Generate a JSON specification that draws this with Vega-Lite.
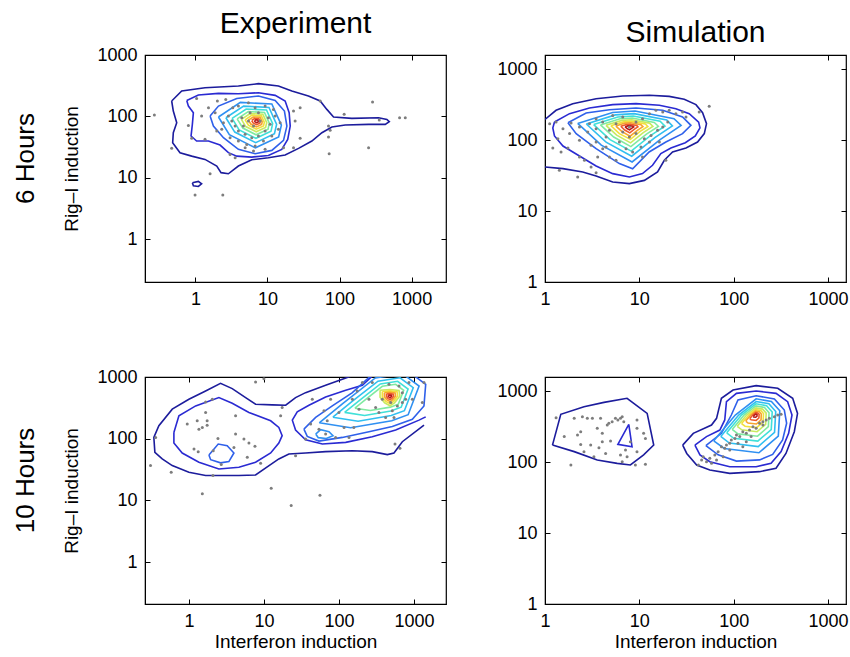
{
"$schema":"https://vega.github.io/schema/vega-lite/v6.json",
"background":"white",
"padding":{"left":13,"top":8,"right":0,"bottom":0},
"config":{
 "font":"Liberation Sans",
 "view":{"stroke":"black","strokeWidth":1.2},
 "axis":{"grid":false,"domainColor":"black","tickColor":"black","labelColor":"black","titleColor":"black","labelFont":"Liberation Sans","titleFont":"Liberation Sans","labelFontSize":18,"titleFontSize":19,"titleFontWeight":"normal","tickSize":-5,"labelPadding":13,"labelFlush":false,"labelOverlap":false},
 "axisX":{"titlePadding":2},
 "axisY":{"titlePadding":15},
 "title":{"font":"Liberation Sans","fontWeight":"normal","color":"black"}
},
"datasets":{
"tlc":[
{"c":1,"l":1,"x":0.469,"y":178},{"c":1,"l":1,"x":0.646,"y":259},{"c":1,"l":1,"x":1.36,"y":293},{"c":1,"l":1,"x":3.95,"y":313},{"c":1,"l":1,"x":7.5,"y":341},{"c":1,"l":1,"x":14.2,"y":313},{"c":1,"l":1,"x":21.8,"y":259},{"c":1,"l":1,"x":37,"y":215},{"c":1,"l":1,"x":53.9,"y":178},{"c":1,"l":1,"x":66.7,"y":130},{"c":1,"l":1,"x":82.6,"y":97.5},{"c":1,"l":1,"x":148,"y":92.8},{"c":1,"l":1,"x":348,"y":95.1},{"c":1,"l":1,"x":454,"y":89.3},{"c":1,"l":1,"x":490,"y":81.8},{"c":1,"l":1,"x":431,"y":74.1},{"c":1,"l":1,"x":253,"y":74.1},{"c":1,"l":1,"x":120,"y":72.3},{"c":1,"l":1,"x":78.3,"y":67},{"c":1,"l":1,"x":56.9,"y":54.2},{"c":1,"l":1,"x":41.3,"y":39.6},{"c":1,"l":1,"x":27,"y":30.1},{"c":1,"l":1,"x":17.6,"y":23.4},{"c":1,"l":1,"x":10.3,"y":21.2},{"c":1,"l":1,"x":6.06,"y":19.6},{"c":1,"l":1,"x":3.95,"y":15.5},{"c":1,"l":1,"x":2.87,"y":11.6},{"c":1,"l":1,"x":2.27,"y":12.1},{"c":1,"l":1,"x":1.98,"y":15.5},{"c":1,"l":1,"x":1.36,"y":19.9},{"c":1,"l":1,"x":0.889,"y":22.5},{"c":1,"l":1,"x":0.612,"y":25.6},{"c":1,"l":1,"x":0.484,"y":37.2},{"c":1,"l":1,"x":0.494,"y":54.2},{"c":1,"l":1,"x":0.551,"y":78.9},{"c":1,"l":1,"x":0.494,"y":122},{"c":1,"l":1,"x":0.469,"y":178},
{"c":2,"l":2,"x":0.759,"y":182},{"c":2,"l":2,"x":1.1,"y":223},{"c":2,"l":2,"x":2.09,"y":237},{"c":2,"l":2,"x":3.95,"y":234},{"c":2,"l":2,"x":7.5,"y":243},{"c":2,"l":2,"x":12.8,"y":220},{"c":2,"l":2,"x":17.6,"y":178},{"c":2,"l":2,"x":20,"y":115},{"c":2,"l":2,"x":20.7,"y":69.5},{"c":2,"l":2,"x":19.1,"y":42.2},{"c":2,"l":2,"x":15.8,"y":29},{"c":2,"l":2,"x":10.3,"y":23.1},{"c":2,"l":2,"x":6.06,"y":21.7},{"c":2,"l":2,"x":3.75,"y":22.5},{"c":2,"l":2,"x":2.87,"y":25.6},{"c":2,"l":2,"x":2.2,"y":34.1},{"c":2,"l":2,"x":1.52,"y":39.6},{"c":2,"l":2,"x":1.04,"y":39.6},{"c":2,"l":2,"x":0.871,"y":47.8},{"c":2,"l":2,"x":0.908,"y":74.1},{"c":2,"l":2,"x":0.938,"y":115},{"c":2,"l":2,"x":0.8,"y":147},{"c":2,"l":2,"x":0.759,"y":182},
{"c":3,"l":3,"x":1.6,"y":101},{"c":3,"l":3,"x":2.09,"y":147},{"c":3,"l":3,"x":3.75,"y":196},{"c":3,"l":3,"x":7.5,"y":215},{"c":3,"l":3,"x":12.8,"y":182},{"c":3,"l":3,"x":17.2,"y":122},{"c":3,"l":3,"x":18.6,"y":69.5},{"c":3,"l":3,"x":16.7,"y":40.6},{"c":3,"l":3,"x":11.5,"y":27.9},{"c":3,"l":3,"x":6.75,"y":24.6},{"c":3,"l":3,"x":3.95,"y":29},{"c":3,"l":3,"x":2.45,"y":44.9},{"c":3,"l":3,"x":1.78,"y":69.5},{"c":3,"l":3,"x":1.6,"y":101},
{"c":4,"l":4,"x":2.09,"y":97.7},{"c":4,"l":4,"x":4.21,"y":169},{"c":4,"l":4,"x":11.5,"y":159},{"c":4,"l":4,"x":15.6,"y":71.9},{"c":4,"l":4,"x":14.3,"y":46.3},{"c":4,"l":4,"x":6.81,"y":30.7},{"c":4,"l":4,"x":2.96,"y":50.2},{"c":4,"l":4,"x":2.09,"y":97.7},
{"c":5,"l":5,"x":2.65,"y":94.8},{"c":5,"l":5,"x":4.67,"y":147},{"c":5,"l":5,"x":10.5,"y":140},{"c":5,"l":5,"x":13.4,"y":74.1},{"c":5,"l":5,"x":12.5,"y":52},{"c":5,"l":5,"x":6.87,"y":37.3},{"c":5,"l":5,"x":3.52,"y":55.5},{"c":5,"l":5,"x":2.65,"y":94.8},
{"c":6,"l":6,"x":3.23,"y":92.7},{"c":6,"l":6,"x":5.07,"y":132},{"c":6,"l":6,"x":9.7,"y":127},{"c":6,"l":6,"x":11.8,"y":76},{"c":6,"l":6,"x":11.2,"y":57.1},{"c":6,"l":6,"x":6.92,"y":43.9},{"c":6,"l":6,"x":4.05,"y":60.3},{"c":6,"l":6,"x":3.23,"y":92.7},
{"c":7,"l":7,"x":3.8,"y":90.8},{"c":7,"l":7,"x":5.43,"y":120},{"c":7,"l":7,"x":9.1,"y":116},{"c":7,"l":7,"x":10.6,"y":77.6},{"c":7,"l":7,"x":10.2,"y":61.9},{"c":7,"l":7,"x":6.95,"y":50.1},{"c":7,"l":7,"x":4.55,"y":64.6},{"c":7,"l":7,"x":3.8,"y":90.8},
{"c":8,"l":8,"x":4.35,"y":89.3},{"c":8,"l":8,"x":5.75,"y":111},{"c":8,"l":8,"x":8.63,"y":108},{"c":8,"l":8,"x":9.77,"y":78.9},{"c":8,"l":8,"x":9.42,"y":66.1},{"c":8,"l":8,"x":6.98,"y":56},{"c":8,"l":8,"x":5,"y":68.2},{"c":8,"l":8,"x":4.35,"y":89.3},
{"c":9,"l":9,"x":4.9,"y":87.9},{"c":9,"l":9,"x":6.05,"y":104},{"c":9,"l":9,"x":8.24,"y":102},{"c":9,"l":9,"x":9.04,"y":80},{"c":9,"l":9,"x":8.81,"y":70},{"c":9,"l":9,"x":7.01,"y":61.8},{"c":9,"l":9,"x":5.45,"y":71.8},{"c":9,"l":9,"x":4.9,"y":87.9},
{"c":10,"l":10,"x":5.43,"y":86.9},{"c":10,"l":10,"x":6.34,"y":97.7},{"c":10,"l":10,"x":7.91,"y":96.6},{"c":10,"l":10,"x":8.45,"y":81.1},{"c":10,"l":10,"x":8.3,"y":73.6},{"c":10,"l":10,"x":7.05,"y":67.3},{"c":10,"l":10,"x":5.87,"y":75},{"c":10,"l":10,"x":5.43,"y":86.9},
{"c":11,"l":11,"x":6.04,"y":85.7},{"c":11,"l":11,"x":6.62,"y":92.3},{"c":11,"l":11,"x":7.59,"y":91.4},{"c":11,"l":11,"x":7.91,"y":82.2},{"c":11,"l":11,"x":7.82,"y":77.4},{"c":11,"l":11,"x":7.06,"y":73.3},{"c":11,"l":11,"x":6.32,"y":78.3},{"c":11,"l":11,"x":6.04,"y":85.7},
{"c":12,"l":12,"x":6.61,"y":84.7},{"c":12,"l":12,"x":6.89,"y":87.5},{"c":12,"l":12,"x":7.33,"y":87.3},{"c":12,"l":12,"x":7.46,"y":83.2},{"c":12,"l":12,"x":7.43,"y":80.9},{"c":12,"l":12,"x":7.1,"y":78.9},{"c":12,"l":12,"x":6.75,"y":81.3},{"c":12,"l":12,"x":6.61,"y":84.7},
{"c":13,"l":1,"x":0.908,"y":8.28},{"c":13,"l":1,"x":1.1,"y":8.71},{"c":13,"l":1,"x":1.22,"y":7.98},{"c":13,"l":1,"x":1.1,"y":7.22},{"c":13,"l":1,"x":0.938,"y":7.41},{"c":13,"l":1,"x":0.908,"y":8.28}
],
"tlp":[
{"x":0.27,"y":105},{"x":0.469,"y":30.1},{"x":0.8,"y":71.3},{"x":0.889,"y":43.8},{"x":1.04,"y":196},{"x":1.22,"y":101},{"x":1.36,"y":42.2},{"x":1.52,"y":138},{"x":1.6,"y":11.6},{"x":0.99,"y":5.21},{"x":2.4,"y":5.21},{"x":2.02,"y":178},{"x":2.64,"y":189},{"x":3.56,"y":21.2},{"x":3.03,"y":24},{"x":23,"y":122},{"x":28.4,"y":138},{"x":24.2,"y":83.9},{"x":28.4,"y":43.8},{"x":23,"y":30.8},{"x":16.7,"y":30.8},{"x":53.9,"y":178},{"x":70.3,"y":69.5},{"x":74.1,"y":59.2},{"x":70.3,"y":46},{"x":71.8,"y":24.6},{"x":116,"y":108},{"x":253,"y":30.8},{"x":287,"y":171},{"x":356,"y":87.1},{"x":681,"y":95.1},{"x":817,"y":95.1},{"x":3.3,"y":138},{"x":3.95,"y":147},{"x":5.45,"y":167},{"x":6.74,"y":138},{"x":9.28,"y":147},{"x":12.1,"y":130},{"x":12.8,"y":101},{"x":10.9,"y":74.1},{"x":9.28,"y":57.7},{"x":7.5,"y":47.8},{"x":6.06,"y":44.9},{"x":4.9,"y":50.9},{"x":3.95,"y":57.7},{"x":3.56,"y":69.5},{"x":3.2,"y":83.9},{"x":2.87,"y":101},{"x":2.45,"y":78.9},{"x":2.32,"y":61.4},{"x":3.03,"y":44.9},{"x":3.95,"y":39.6},{"x":5.16,"y":34.9},{"x":6.74,"y":32.8},{"x":8.8,"y":39.6},{"x":11.5,"y":47.8},{"x":14.2,"y":61.4},{"x":15,"y":78.9},{"x":4.4,"y":95.1},{"x":5.45,"y":83.9},{"x":6.4,"y":69.5},{"x":7.91,"y":83.9},{"x":10.3,"y":95.1},{"x":5.74,"y":115},{"x":7.5,"y":115},{"x":4.64,"y":69.5},{"x":1.98,"y":57.7},{"x":1.88,"y":115},{"x":4.9,"y":30.8},{"x":6.4,"y":27.2},{"x":9.28,"y":29}
],
"trc":[
{"c":1,"l":1,"x":1,"y":195},{"c":1,"l":1,"x":1.31,"y":262},{"c":1,"l":1,"x":1.97,"y":325},{"c":1,"l":1,"x":3.48,"y":382},{"c":1,"l":1,"x":6.67,"y":417},{"c":1,"l":1,"x":12.8,"y":426},{"c":1,"l":1,"x":20.7,"y":412},{"c":1,"l":1,"x":29.9,"y":374},{"c":1,"l":1,"x":39.8,"y":315},{"c":1,"l":1,"x":46.8,"y":243},{"c":1,"l":1,"x":51.5,"y":170},{"c":1,"l":1,"x":48.8,"y":123},{"c":1,"l":1,"x":41.4,"y":93.7},{"c":1,"l":1,"x":31.2,"y":77.1},{"c":1,"l":1,"x":22.5,"y":67.8},{"c":1,"l":1,"x":18.4,"y":51.8},{"c":1,"l":1,"x":15.6,"y":35.4},{"c":1,"l":1,"x":11.3,"y":27},{"c":1,"l":1,"x":7.84,"y":24.3},{"c":1,"l":1,"x":5.22,"y":25.6},{"c":1,"l":1,"x":3.48,"y":31.1},{"c":1,"l":1,"x":2.51,"y":35.4},{"c":1,"l":1,"x":1.55,"y":39.5},{"c":1,"l":1,"x":1,"y":41.7},
{"c":2,"l":2,"x":1.26,"y":179},{"c":2,"l":2,"x":1.82,"y":235},{"c":2,"l":2,"x":2.96,"y":282},{"c":2,"l":2,"x":5.22,"y":315},{"c":2,"l":2,"x":9.22,"y":325},{"c":2,"l":2,"x":16.3,"y":308},{"c":2,"l":2,"x":24.4,"y":276},{"c":2,"l":2,"x":33.8,"y":235},{"c":2,"l":2,"x":42.5,"y":179},{"c":2,"l":2,"x":43.9,"y":148},{"c":2,"l":2,"x":39.2,"y":114},{"c":2,"l":2,"x":30.7,"y":91.6},{"c":2,"l":2,"x":21.6,"y":77.1},{"c":2,"l":2,"x":16.9,"y":64.3},{"c":2,"l":2,"x":13.8,"y":44},{"c":2,"l":2,"x":10.8,"y":33.6},{"c":2,"l":2,"x":7.84,"y":30.1},{"c":2,"l":2,"x":5.22,"y":33.6},{"c":2,"l":2,"x":3.48,"y":43.1},{"c":2,"l":2,"x":2.32,"y":59.6},{"c":2,"l":2,"x":1.55,"y":82.2},{"c":2,"l":2,"x":1.26,"y":114},{"c":2,"l":2,"x":1.21,"y":148},{"c":2,"l":2,"x":1.26,"y":179},
{"c":3,"l":3,"x":1.75,"y":175},{"c":3,"l":3,"x":2.73,"y":240},{"c":3,"l":3,"x":4.82,"y":267},{"c":3,"l":3,"x":9.22,"y":282},{"c":3,"l":3,"x":17.7,"y":262},{"c":3,"l":3,"x":28.7,"y":211},{"c":3,"l":3,"x":35.2,"y":161},{"c":3,"l":3,"x":28.7,"y":123},{"c":3,"l":3,"x":19.1,"y":93.8},{"c":3,"l":3,"x":12.7,"y":67.8},{"c":3,"l":3,"x":8.49,"y":39.4},{"c":3,"l":3,"x":6.14,"y":46.5},{"c":3,"l":3,"x":3.48,"y":75.5},{"c":3,"l":3,"x":2.14,"y":123},{"c":3,"l":3,"x":1.75,"y":175},
{"c":4,"l":4,"x":2.22,"y":171},{"c":4,"l":4,"x":5.21,"y":244},{"c":4,"l":4,"x":9,"y":256},{"c":4,"l":4,"x":23.3,"y":200},{"c":4,"l":4,"x":27.7,"y":160},{"c":4,"l":4,"x":16.6,"y":101},{"c":4,"l":4,"x":8.38,"y":49},{"c":4,"l":4,"x":3.95,"y":84.5},{"c":4,"l":4,"x":2.22,"y":171},
{"c":5,"l":5,"x":2.74,"y":168},{"c":5,"l":5,"x":5.57,"y":226},{"c":5,"l":5,"x":8.79,"y":235},{"c":5,"l":5,"x":19.5,"y":191},{"c":5,"l":5,"x":22.4,"y":158},{"c":5,"l":5,"x":14.6,"y":108},{"c":5,"l":5,"x":8.3,"y":59.2},{"c":5,"l":5,"x":4.44,"y":93.1},{"c":5,"l":5,"x":2.74,"y":168},
{"c":6,"l":6,"x":3.28,"y":165},{"c":6,"l":6,"x":5.92,"y":211},{"c":6,"l":6,"x":8.61,"y":218},{"c":6,"l":6,"x":16.6,"y":184},{"c":6,"l":6,"x":18.7,"y":157},{"c":6,"l":6,"x":13.1,"y":115},{"c":6,"l":6,"x":8.2,"y":69.7},{"c":6,"l":6,"x":4.89,"y":101},{"c":6,"l":6,"x":3.28,"y":165},
{"c":7,"l":7,"x":3.87,"y":163},{"c":7,"l":7,"x":6.24,"y":199},{"c":7,"l":7,"x":8.45,"y":204},{"c":7,"l":7,"x":14.4,"y":177},{"c":7,"l":7,"x":15.9,"y":156},{"c":7,"l":7,"x":11.9,"y":121},{"c":7,"l":7,"x":8.13,"y":80.7},{"c":7,"l":7,"x":5.35,"y":110},{"c":7,"l":7,"x":3.87,"y":163},
{"c":8,"l":8,"x":4.43,"y":161},{"c":8,"l":8,"x":6.52,"y":189},{"c":8,"l":8,"x":8.34,"y":193},{"c":8,"l":8,"x":12.8,"y":173},{"c":8,"l":8,"x":13.9,"y":156},{"c":8,"l":8,"x":11,"y":127},{"c":8,"l":8,"x":8.07,"y":91.2},{"c":8,"l":8,"x":5.75,"y":117},{"c":8,"l":8,"x":4.43,"y":161},
{"c":9,"l":9,"x":4.99,"y":159},{"c":9,"l":9,"x":6.78,"y":180},{"c":9,"l":9,"x":8.22,"y":183},{"c":9,"l":9,"x":11.6,"y":168},{"c":9,"l":9,"x":12.3,"y":155},{"c":9,"l":9,"x":10.2,"y":132},{"c":9,"l":9,"x":8.04,"y":102},{"c":9,"l":9,"x":6.14,"y":123},{"c":9,"l":9,"x":4.99,"y":159},
{"c":10,"l":10,"x":5.64,"y":157},{"c":10,"l":10,"x":7.05,"y":173},{"c":10,"l":10,"x":8.13,"y":175},{"c":10,"l":10,"x":10.4,"y":164},{"c":10,"l":10,"x":10.9,"y":154},{"c":10,"l":10,"x":9.53,"y":137},{"c":10,"l":10,"x":7.98,"y":113},{"c":10,"l":10,"x":6.55,"y":131},{"c":10,"l":10,"x":5.64,"y":157},
{"c":11,"l":11,"x":6.35,"y":156},{"c":11,"l":11,"x":7.31,"y":165},{"c":11,"l":11,"x":8.02,"y":166},{"c":11,"l":11,"x":9.4,"y":160},{"c":11,"l":11,"x":9.66,"y":153},{"c":11,"l":11,"x":8.87,"y":142},{"c":11,"l":11,"x":7.93,"y":126},{"c":11,"l":11,"x":7,"y":138},{"c":11,"l":11,"x":6.35,"y":156},
{"c":12,"l":12,"x":7.05,"y":154},{"c":12,"l":12,"x":7.57,"y":158},{"c":12,"l":12,"x":7.93,"y":159},{"c":12,"l":12,"x":8.57,"y":156},{"c":12,"l":12,"x":8.71,"y":153},{"c":12,"l":12,"x":8.34,"y":147},{"c":12,"l":12,"x":7.87,"y":139},{"c":12,"l":12,"x":7.4,"y":145},{"c":12,"l":12,"x":7.05,"y":154}
],
"trp":[
{"x":1.12,"y":170},{"x":1.21,"y":77.1},{"x":1.37,"y":104},{"x":1.48,"y":67.8},{"x":1.75,"y":77.1},{"x":1.42,"y":37.4},{"x":2.22,"y":30.1},{"x":2.62,"y":51.8},{"x":3.48,"y":34.7},{"x":3.08,"y":84.1},{"x":1.82,"y":123},{"x":2.32,"y":98.9},{"x":1.55,"y":144},{"x":1.31,"y":179},{"x":1.89,"y":173},{"x":2.96,"y":170},{"x":3.48,"y":144},{"x":4.09,"y":179},{"x":4.82,"y":137},{"x":5.66,"y":170},{"x":6.67,"y":130},{"x":7.84,"y":152},{"x":9.22,"y":179},{"x":10.8,"y":200},{"x":12.8,"y":235},{"x":15,"y":262},{"x":17.7,"y":248},{"x":20.7,"y":262},{"x":24.4,"y":235},{"x":28.7,"y":248},{"x":31.2,"y":211},{"x":43.1,"y":248},{"x":55,"y":298},{"x":6.14,"y":93.7},{"x":7.23,"y":75.5},{"x":8.49,"y":67.8},{"x":10.8,"y":57.7},{"x":11.3,"y":104},{"x":13.3,"y":116},{"x":15.6,"y":137},{"x":17.7,"y":152},{"x":20,"y":179},{"x":5.66,"y":51.8},{"x":4.82,"y":57.7},{"x":4.09,"y":75.5},{"x":3.48,"y":93.7},{"x":4.44,"y":110},{"x":5.22,"y":222},{"x":6.67,"y":211},{"x":9.22,"y":123},{"x":10.4,"y":79.6},{"x":12.8,"y":93.7},{"x":16.3,"y":93.7},{"x":19.1,"y":51.8},{"x":7.84,"y":110},{"x":3.48,"y":200},{"x":2.84,"y":130},{"x":2.32,"y":152},{"x":4.44,"y":79.6},{"x":3.62,"y":57.7},{"x":2.32,"y":57.7},{"x":3.08,"y":41.7}
],
"blc":[
{"c":1,"l":1,"x":194,"y":1175},{"c":1,"l":1,"x":66.4,"y":734},{"c":1,"l":1,"x":35.9,"y":558},{"c":1,"l":1,"x":26.4,"y":464},{"c":1,"l":1,"x":19.5,"y":349},{"c":1,"l":1,"x":12.9,"y":353},{"c":1,"l":1,"x":7.74,"y":362},{"c":1,"l":1,"x":5.7,"y":464},{"c":1,"l":1,"x":3.78,"y":649},{"c":1,"l":1,"x":2.64,"y":791},{"c":1,"l":1,"x":1.67,"y":594},{"c":1,"l":1,"x":1,"y":437},{"c":1,"l":1,"x":0.6,"y":301},{"c":1,"l":1,"x":0.398,"y":162},{"c":1,"l":1,"x":0.341,"y":105},{"c":1,"l":1,"x":0.352,"y":60.3},{"c":1,"l":1,"x":0.441,"y":47},{"c":1,"l":1,"x":0.6,"y":36.7},{"c":1,"l":1,"x":1,"y":28.6},{"c":1,"l":1,"x":1.67,"y":25.3},{"c":1,"l":1,"x":4.64,"y":25.3},{"c":1,"l":1,"x":7.74,"y":25.9},{"c":1,"l":1,"x":11.7,"y":36.7},{"c":1,"l":1,"x":15.8,"y":47},{"c":1,"l":1,"x":21.5,"y":56.6},{"c":1,"l":1,"x":35.9,"y":58.7},{"c":1,"l":1,"x":66.4,"y":61.7},{"c":1,"l":1,"x":151,"y":64},{"c":1,"l":1,"x":278,"y":61.7},{"c":1,"l":1,"x":441,"y":55.2},{"c":1,"l":1,"x":541,"y":58.7},{"c":1,"l":1,"x":699,"y":89.5},{"c":1,"l":1,"x":1360,"y":166},
{"c":2,"l":2,"x":0.631,"y":126},{"c":2,"l":2,"x":0.736,"y":235},{"c":2,"l":2,"x":1.23,"y":340},{"c":2,"l":2,"x":2.51,"y":464},{"c":2,"l":2,"x":3.78,"y":376},{"c":2,"l":2,"x":6.31,"y":266},{"c":2,"l":2,"x":12.3,"y":195},{"c":2,"l":2,"x":15.8,"y":152},{"c":2,"l":2,"x":17.5,"y":112},{"c":2,"l":2,"x":15.8,"y":85.1},{"c":2,"l":2,"x":12.3,"y":58.7},{"c":2,"l":2,"x":7.74,"y":41.5},{"c":2,"l":2,"x":4.64,"y":34.5},{"c":2,"l":2,"x":2.51,"y":32.4},{"c":2,"l":2,"x":1.36,"y":41.5},{"c":2,"l":2,"x":0.815,"y":58.7},{"c":2,"l":2,"x":0.631,"y":85.1},{"c":2,"l":2,"x":0.631,"y":126},
{"c":3,"l":3,"x":1.85,"y":54.6},{"c":3,"l":3,"x":2.46,"y":82},{"c":3,"l":3,"x":3.24,"y":77.1},{"c":3,"l":3,"x":3.98,"y":58.7},{"c":3,"l":3,"x":3.41,"y":42.6},{"c":3,"l":3,"x":2.64,"y":40.6},{"c":3,"l":3,"x":1.95,"y":45.8},{"c":3,"l":3,"x":1.85,"y":54.6},
{"c":4,"l":2,"x":278,"y":1038},{"c":4,"l":2,"x":205,"y":734},{"c":4,"l":2,"x":123,"y":610},{"c":4,"l":2,"x":66.4,"y":475},{"c":4,"l":2,"x":39.8,"y":349},{"c":4,"l":2,"x":27.8,"y":272},{"c":4,"l":2,"x":23.9,"y":200},{"c":4,"l":2,"x":26.4,"y":138},{"c":4,"l":2,"x":35.9,"y":96.4},{"c":4,"l":2,"x":60,"y":82},{"c":4,"l":2,"x":123,"y":87.3},{"c":4,"l":2,"x":278,"y":108},{"c":4,"l":2,"x":570,"y":138},{"c":4,"l":2,"x":1167,"y":200},{"c":4,"l":2,"x":1432,"y":226},
{"c":5,"l":4,"x":48.9,"y":119},{"c":5,"l":4,"x":57,"y":140},{"c":5,"l":4,"x":73.6,"y":130},{"c":5,"l":4,"x":83.2,"y":112},{"c":5,"l":4,"x":67.8,"y":101},{"c":5,"l":4,"x":53,"y":104},{"c":5,"l":4,"x":48.9,"y":119},
{"c":6,"l":3,"x":34.1,"y":143},{"c":6,"l":3,"x":48.9,"y":221},{"c":6,"l":3,"x":81.5,"y":340},{"c":6,"l":3,"x":151,"y":558},{"c":6,"l":3,"x":278,"y":1104},{"c":6,"l":3,"x":774,"y":1330},{"c":6,"l":3,"x":1432,"y":762},{"c":6,"l":3,"x":1358,"y":340},{"c":6,"l":3,"x":951,"y":207},{"c":6,"l":3,"x":514,"y":158},{"c":6,"l":3,"x":251,"y":130},{"c":6,"l":3,"x":111,"y":105},{"c":6,"l":3,"x":54.1,"y":91.6},{"c":6,"l":3,"x":37.8,"y":109},{"c":6,"l":3,"x":34.1,"y":143},
{"c":7,"l":4,"x":54.6,"y":181},{"c":7,"l":4,"x":111,"y":368},{"c":7,"l":4,"x":305,"y":966},{"c":7,"l":4,"x":706,"y":1125},{"c":7,"l":4,"x":1169,"y":713},{"c":7,"l":4,"x":836,"y":245},{"c":7,"l":4,"x":505,"y":196},{"c":7,"l":4,"x":143,"y":151},{"c":7,"l":4,"x":54.6,"y":181},
{"c":8,"l":5,"x":83,"y":223},{"c":8,"l":5,"x":147,"y":394},{"c":8,"l":5,"x":331,"y":857},{"c":8,"l":5,"x":652,"y":971},{"c":8,"l":5,"x":977,"y":671},{"c":8,"l":5,"x":745,"y":284},{"c":8,"l":5,"x":497,"y":238},{"c":8,"l":5,"x":180,"y":192},{"c":8,"l":5,"x":83,"y":223},
{"c":9,"l":6,"x":119,"y":267},{"c":9,"l":6,"x":188,"y":419},{"c":9,"l":6,"x":356,"y":773},{"c":9,"l":6,"x":605,"y":851},{"c":9,"l":6,"x":834,"y":637},{"c":9,"l":6,"x":675,"y":324},{"c":9,"l":6,"x":490,"y":281},{"c":9,"l":6,"x":220,"y":238},{"c":9,"l":6,"x":119,"y":267},
{"c":10,"l":7,"x":163,"y":312},{"c":10,"l":7,"x":232,"y":442},{"c":10,"l":7,"x":378,"y":706},{"c":10,"l":7,"x":570,"y":762},{"c":10,"l":7,"x":729,"y":610},{"c":10,"l":7,"x":618,"y":362},{"c":10,"l":7,"x":484,"y":325},{"c":10,"l":7,"x":262,"y":286},{"c":10,"l":7,"x":163,"y":312},
{"c":11,"l":8,"x":353,"y":611},{"c":11,"l":8,"x":479,"y":628},{"c":11,"l":8,"x":631,"y":603},{"c":11,"l":8,"x":649,"y":490},{"c":11,"l":8,"x":550,"y":382},{"c":11,"l":8,"x":479,"y":342},{"c":11,"l":8,"x":406,"y":382},{"c":11,"l":8,"x":353,"y":470},{"c":11,"l":8,"x":353,"y":611},
{"c":12,"l":9,"x":378,"y":582},{"c":12,"l":9,"x":479,"y":596},{"c":12,"l":9,"x":594,"y":577},{"c":12,"l":9,"x":607,"y":490},{"c":12,"l":9,"x":533,"y":403},{"c":12,"l":9,"x":479,"y":370},{"c":12,"l":9,"x":421,"y":403},{"c":12,"l":9,"x":378,"y":474},{"c":12,"l":9,"x":378,"y":582},
{"c":13,"l":10,"x":403,"y":555},{"c":13,"l":10,"x":479,"y":564},{"c":13,"l":10,"x":560,"y":551},{"c":13,"l":10,"x":569,"y":490},{"c":13,"l":10,"x":518,"y":426},{"c":13,"l":10,"x":479,"y":400},{"c":13,"l":10,"x":436,"y":426},{"c":13,"l":10,"x":403,"y":479},{"c":13,"l":10,"x":403,"y":555},
{"c":14,"l":11,"x":429,"y":531},{"c":14,"l":11,"x":479,"y":537},{"c":14,"l":11,"x":530,"y":528},{"c":14,"l":11,"x":535,"y":490},{"c":14,"l":11,"x":504,"y":447},{"c":14,"l":11,"x":479,"y":430},{"c":14,"l":11,"x":451,"y":447},{"c":14,"l":11,"x":429,"y":482},{"c":14,"l":11,"x":429,"y":531},
{"c":15,"l":12,"x":455,"y":508},{"c":15,"l":12,"x":479,"y":511},{"c":15,"l":12,"x":501,"y":507},{"c":15,"l":12,"x":504,"y":490},{"c":15,"l":12,"x":490,"y":470},{"c":15,"l":12,"x":479,"y":461},{"c":15,"l":12,"x":466,"y":470},{"c":15,"l":12,"x":455,"y":486},{"c":15,"l":12,"x":455,"y":508}
],
"blp":[
{"x":0.308,"y":36.7},{"x":0.36,"y":105},{"x":0.581,"y":28.6},{"x":0.95,"y":173},{"x":1.29,"y":195},{"x":1.36,"y":143},{"x":1.51,"y":152},{"x":1.75,"y":195},{"x":1.75,"y":166},{"x":1.67,"y":266},{"x":2.05,"y":437},{"x":1.67,"y":395},{"x":1.17,"y":68.1},{"x":1.33,"y":61.7},{"x":2.44,"y":101},{"x":2.11,"y":64},{"x":2.7,"y":38.1},{"x":2.09,"y":25.3},{"x":1.51,"y":12.8},{"x":4.19,"y":235},{"x":4.19,"y":119},{"x":3.98,"y":72.4},{"x":5.41,"y":98.9},{"x":6.31,"y":85.1},{"x":6,"y":50},{"x":7.59,"y":75.2},{"x":7.74,"y":830},{"x":10,"y":940},{"x":9.03,"y":40},{"x":12.5,"y":15.8},{"x":23.1,"y":8.3},{"x":17.5,"y":320},{"x":16.7,"y":235},{"x":44.1,"y":437},{"x":26.4,"y":53.2},{"x":41.9,"y":173},{"x":54.1,"y":143},{"x":63.1,"y":283},{"x":69.8,"y":195},{"x":77.4,"y":437},{"x":90.3,"y":105},{"x":117,"y":152},{"x":136,"y":105},{"x":158,"y":152},{"x":175,"y":594},{"x":185,"y":301},{"x":205,"y":811},{"x":278,"y":811},{"x":308,"y":320},{"x":341,"y":266},{"x":378,"y":437},{"x":419,"y":221},{"x":489,"y":385},{"x":514,"y":283},{"x":541,"y":221},{"x":600,"y":340},{"x":699,"y":385},{"x":699,"y":558},{"x":774,"y":437},{"x":857,"y":811},{"x":951,"y":437},{"x":1291,"y":385},{"x":1358,"y":811},{"x":558,"y":82},{"x":650,"y":69.8},{"x":55.8,"y":12.1},{"x":100,"y":266},{"x":251,"y":437},{"x":464,"y":762},{"x":631,"y":716},{"x":151,"y":437},{"x":35.9,"y":98.9},{"x":66.4,"y":119}
],
"brc":[
{"c":1,"l":1,"x":1.2,"y":173},{"c":1,"l":1,"x":1.47,"y":469},{"c":1,"l":1,"x":2.59,"y":601},{"c":1,"l":1,"x":4.22,"y":692},{"c":1,"l":1,"x":7.41,"y":789},{"c":1,"l":1,"x":12.1,"y":484},{"c":1,"l":1,"x":14.2,"y":173},{"c":1,"l":1,"x":11.1,"y":126},{"c":1,"l":1,"x":8.04,"y":90.8},{"c":1,"l":1,"x":5.82,"y":95.7},{"c":1,"l":1,"x":3.58,"y":107},{"c":1,"l":1,"x":2.04,"y":140},{"c":1,"l":1,"x":1.2,"y":173},
{"c":2,"l":2,"x":7.73,"y":340},{"c":2,"l":2,"x":8.37,"y":164},{"c":2,"l":2,"x":5.92,"y":177},{"c":2,"l":2,"x":7.73,"y":340},
{"c":3,"l":1,"x":28.8,"y":173},{"c":3,"l":1,"x":37.3,"y":253},{"c":3,"l":1,"x":58.2,"y":332},{"c":3,"l":1,"x":65.8,"y":412},{"c":3,"l":1,"x":74.1,"y":789},{"c":3,"l":1,"x":98.4,"y":1033},{"c":3,"l":1,"x":173,"y":1189},{"c":3,"l":1,"x":293,"y":1091},{"c":3,"l":1,"x":422,"y":789},{"c":3,"l":1,"x":475,"y":484},{"c":3,"l":1,"x":439,"y":267},{"c":3,"l":1,"x":358,"y":132},{"c":3,"l":1,"x":281,"y":81.5},{"c":3,"l":1,"x":188,"y":73.1},{"c":3,"l":1,"x":90.8,"y":69.2},{"c":3,"l":1,"x":55.8,"y":77.1},{"c":3,"l":1,"x":40.5,"y":90.8},{"c":3,"l":1,"x":31.8,"y":132},{"c":3,"l":1,"x":28.8,"y":173},
{"c":4,"l":2,"x":38.8,"y":173},{"c":4,"l":2,"x":51.5,"y":228},{"c":4,"l":2,"x":71.3,"y":282},{"c":4,"l":2,"x":80.4,"y":391},{"c":4,"l":2,"x":83.8,"y":708},{"c":4,"l":2,"x":107,"y":927},{"c":4,"l":2,"x":173,"y":1000},{"c":4,"l":2,"x":281,"y":927},{"c":4,"l":2,"x":373,"y":708},{"c":4,"l":2,"x":415,"y":459},{"c":4,"l":2,"x":382,"y":253},{"c":4,"l":2,"x":318,"y":140},{"c":4,"l":2,"x":249,"y":95.7},{"c":4,"l":2,"x":173,"y":85.9},{"c":4,"l":2,"x":90.8,"y":85.9},{"c":4,"l":2,"x":55.8,"y":101},{"c":4,"l":2,"x":43.9,"y":126},{"c":4,"l":2,"x":38.8,"y":173},
{"c":5,"l":3,"x":50.7,"y":170},{"c":5,"l":3,"x":74.1,"y":254},{"c":5,"l":3,"x":94.4,"y":459},{"c":5,"l":3,"x":111,"y":746},{"c":5,"l":3,"x":173,"y":859},{"c":5,"l":3,"x":270,"y":771},{"c":5,"l":3,"x":344,"y":540},{"c":5,"l":3,"x":364,"y":351},{"c":5,"l":3,"x":330,"y":204},{"c":5,"l":3,"x":259,"y":128},{"c":5,"l":3,"x":188,"y":107},{"c":5,"l":3,"x":107,"y":103},{"c":5,"l":3,"x":68.4,"y":126},{"c":5,"l":3,"x":50.7,"y":170},
{"c":6,"l":4,"x":61.5,"y":199},{"c":6,"l":4,"x":104,"y":459},{"c":6,"l":4,"x":173,"y":776},{"c":6,"l":4,"x":251,"y":710},{"c":6,"l":4,"x":308,"y":526},{"c":6,"l":4,"x":297,"y":232},{"c":6,"l":4,"x":185,"y":135},{"c":6,"l":4,"x":79.3,"y":155},{"c":6,"l":4,"x":61.5,"y":199},
{"c":7,"l":5,"x":72.9,"y":229},{"c":7,"l":5,"x":113,"y":459},{"c":7,"l":5,"x":173,"y":711},{"c":7,"l":5,"x":236,"y":661},{"c":7,"l":5,"x":279,"y":514},{"c":7,"l":5,"x":271,"y":261},{"c":7,"l":5,"x":182,"y":165},{"c":7,"l":5,"x":89.9,"y":185},{"c":7,"l":5,"x":72.9,"y":229},
{"c":8,"l":6,"x":84.3,"y":258},{"c":8,"l":6,"x":121,"y":459},{"c":8,"l":6,"x":172,"y":661},{"c":8,"l":6,"x":223,"y":621},{"c":8,"l":6,"x":256,"y":505},{"c":8,"l":6,"x":250,"y":287},{"c":8,"l":6,"x":180,"y":197},{"c":8,"l":6,"x":100,"y":216},{"c":8,"l":6,"x":84.3,"y":258},
{"c":9,"l":7,"x":96.4,"y":288},{"c":9,"l":7,"x":129,"y":459},{"c":9,"l":7,"x":172,"y":617},{"c":9,"l":7,"x":212,"y":586},{"c":9,"l":7,"x":237,"y":495},{"c":9,"l":7,"x":233,"y":314},{"c":9,"l":7,"x":179,"y":231},{"c":9,"l":7,"x":111,"y":249},{"c":9,"l":7,"x":96.4,"y":288},
{"c":10,"l":8,"x":109,"y":318},{"c":10,"l":8,"x":137,"y":459},{"c":10,"l":8,"x":172,"y":579},{"c":10,"l":8,"x":202,"y":556},{"c":10,"l":8,"x":221,"y":488},{"c":10,"l":8,"x":218,"y":340},{"c":10,"l":8,"x":177,"y":267},{"c":10,"l":8,"x":122,"y":284},{"c":10,"l":8,"x":109,"y":318},
{"c":11,"l":9,"x":121,"y":348},{"c":11,"l":9,"x":145,"y":459},{"c":11,"l":9,"x":171,"y":547},{"c":11,"l":9,"x":194,"y":531},{"c":11,"l":9,"x":207,"y":481},{"c":11,"l":9,"x":205,"y":366},{"c":11,"l":9,"x":175,"y":305},{"c":11,"l":9,"x":132,"y":319},{"c":11,"l":9,"x":121,"y":348},
{"c":12,"l":10,"x":134,"y":377},{"c":12,"l":10,"x":152,"y":459},{"c":12,"l":10,"x":171,"y":520},{"c":12,"l":10,"x":187,"y":509},{"c":12,"l":10,"x":196,"y":474},{"c":12,"l":10,"x":195,"y":391},{"c":12,"l":10,"x":174,"y":343},{"c":12,"l":10,"x":142,"y":354},{"c":12,"l":10,"x":134,"y":377},
{"c":13,"l":11,"x":148,"y":407},{"c":13,"l":11,"x":159,"y":459},{"c":13,"l":11,"x":171,"y":495},{"c":13,"l":11,"x":180,"y":489},{"c":13,"l":11,"x":186,"y":468},{"c":13,"l":11,"x":185,"y":417},{"c":13,"l":11,"x":173,"y":385},{"c":13,"l":11,"x":153,"y":393},{"c":13,"l":11,"x":148,"y":407},
{"c":14,"l":12,"x":161,"y":437},{"c":14,"l":12,"x":166,"y":459},{"c":14,"l":12,"x":171,"y":474},{"c":14,"l":12,"x":175,"y":471},{"c":14,"l":12,"x":177,"y":463},{"c":14,"l":12,"x":176,"y":441},{"c":14,"l":12,"x":171,"y":427},{"c":14,"l":12,"x":163,"y":431},{"c":14,"l":12,"x":161,"y":437}
],
"brp":[
{"x":1.31,"y":421},{"x":1.6,"y":228},{"x":1.88,"y":90.8},{"x":2.04,"y":412},{"x":2.21,"y":240},{"x":2.39,"y":267},{"x":2.39,"y":177},{"x":2.49,"y":435},{"x":2.81,"y":412},{"x":3.18,"y":412},{"x":3.3,"y":119},{"x":3.58,"y":298},{"x":3.88,"y":412},{"x":4.05,"y":193},{"x":3.73,"y":159},{"x":4.39,"y":132},{"x":4.57,"y":332},{"x":4.75,"y":351},{"x":5.15,"y":370},{"x":4.95,"y":198},{"x":5.58,"y":412},{"x":5.92,"y":391},{"x":6.31,"y":412},{"x":6.58,"y":435},{"x":6.84,"y":370},{"x":6.31,"y":126},{"x":6.58,"y":101},{"x":7.13,"y":148},{"x":7.41,"y":119},{"x":8.04,"y":193},{"x":9.08,"y":90.8},{"x":9.44,"y":391},{"x":9.44,"y":298},{"x":9.44,"y":140},{"x":11.1,"y":254},{"x":11.6,"y":215},{"x":11.6,"y":92.7},{"x":4.05,"y":254},{"x":3.05,"y":173},{"x":2.59,"y":140},
{"x":42.2,"y":90.8},{"x":45.7,"y":107},{"x":47.5,"y":119},{"x":51.5,"y":101},{"x":55.8,"y":113},{"x":58.2,"y":95.7},{"x":63.1,"y":126},{"x":68.4,"y":140},{"x":74.1,"y":164},{"x":80.4,"y":156},{"x":83.8,"y":173},{"x":90.8,"y":183},{"x":94.4,"y":204},{"x":103,"y":215},{"x":107,"y":240},{"x":116,"y":228},{"x":125,"y":267},{"x":136,"y":254},{"x":147,"y":282},{"x":160,"y":315},{"x":173,"y":298},{"x":188,"y":351},{"x":204,"y":370},{"x":221,"y":391},{"x":239,"y":412},{"x":270,"y":435},{"x":293,"y":459},{"x":318,"y":469},{"x":111,"y":183},{"x":136,"y":193},{"x":90.8,"y":148},{"x":153,"y":228},{"x":204,"y":332},{"x":65.8,"y":107},{"x":77.3,"y":119},{"x":125,"y":164}
]
},
"vconcat":[
{"title":{"text":"6 Hours","orient":"left","anchor":"middle","fontSize":26,"offset":23},
 "spacing":99,"bounds":"flush",
 "hconcat":[
  {"width":301,"height":227,"title":{"text":"Experiment","fontSize":30,"offset":7},
   "layer":[
    {"data":{"name":"tlc"},"mark":{"type":"line","strokeWidth":1.6,"clip":true},
     "encoding":{
      "x":{"field":"x","type":"quantitative","scale":{"type":"log","domain":[0.2,3000],"nice":false},"axis":{"values":[1,10,100,1000],"format":"d","title":null}},
      "y":{"field":"y","type":"quantitative","scale":{"type":"log","domain":[0.2,1000],"nice":false},"axis":{"values":[1,10,100,1000],"format":"d","title":"Rig–I induction"}},
      "color":{"field":"l","type":"ordinal","scale":{"domain":[1,2,3,4,5,6,7,8,9,10,11,12],"range":["#1c1c9c","#2a2ad2","#2f60ea","#2f90f2","#30bff0","#40e0d8","#80eaa0","#c8ea60","#f2e03c","#f6a42e","#ee5a2a","#b81818"]},"legend":null},
      "detail":{"field":"c"},
      "order":{"value":null}}},
    {"data":{"name":"tlp"},"mark":{"type":"circle","size":9,"color":"#7d7d7d","opacity":1},
     "encoding":{
      "x":{"field":"x","type":"quantitative","scale":{"nice":false},"axis":{"orient":"top","values":[1,10,100,1000],"labels":false,"domain":false,"title":null}},
      "y":{"field":"y","type":"quantitative","scale":{"nice":false},"axis":{"orient":"right","values":[1,10,100,1000],"labels":false,"domain":false,"title":null}}}}
   ],
   "resolve":{"axis":{"x":"independent","y":"independent"}}},
  {"width":301,"height":227,"title":{"text":"Simulation","fontSize":30,"offset":7},
   "layer":[
    {"data":{"name":"trc"},"mark":{"type":"line","strokeWidth":1.6,"clip":true},
     "encoding":{
      "x":{"field":"x","type":"quantitative","scale":{"type":"log","domain":[1,1550],"nice":false},"axis":{"values":[1,10,100,1000],"format":"d","title":null}},
      "y":{"field":"y","type":"quantitative","scale":{"type":"log","domain":[1,1575],"nice":false},"axis":{"values":[1,10,100,1000],"format":"d","title":null}},
      "color":{"field":"l","type":"ordinal","scale":{"domain":[1,2,3,4,5,6,7,8,9,10,11,12],"range":["#1c1c9c","#2a2ad2","#2f60ea","#2f90f2","#30bff0","#40e0d8","#80eaa0","#c8ea60","#f2e03c","#f6a42e","#ee5a2a","#b81818"]},"legend":null},
      "detail":{"field":"c"},
      "order":{"value":null}}},
    {"data":{"name":"trp"},"mark":{"type":"circle","size":9,"color":"#7d7d7d","opacity":1},
     "encoding":{
      "x":{"field":"x","type":"quantitative","scale":{"nice":false},"axis":{"orient":"top","values":[1,10,100,1000],"labels":false,"domain":false,"title":null}},
      "y":{"field":"y","type":"quantitative","scale":{"nice":false},"axis":{"orient":"right","values":[1,10,100,1000],"labels":false,"domain":false,"title":null}}}}
   ],
   "resolve":{"axis":{"x":"independent","y":"independent"}}}
 ]},
{"title":{"text":"10 Hours","orient":"left","anchor":"middle","fontSize":26,"offset":23,"dx":29},
 "spacing":99,"bounds":"flush",
 "hconcat":[
  {"width":301,"height":227,
   "layer":[
    {"data":{"name":"blc"},"mark":{"type":"line","strokeWidth":1.6,"clip":true},
     "encoding":{
      "x":{"field":"x","type":"quantitative","scale":{"type":"log","domain":[0.26,2670],"nice":false},"axis":{"values":[1,10,100,1000],"format":"d","title":"Interferon induction"}},
      "y":{"field":"y","type":"quantitative","scale":{"type":"log","domain":[0.21,1000],"nice":false},"axis":{"values":[1,10,100,1000],"format":"d","title":"Rig–I induction"}},
      "color":{"field":"l","type":"ordinal","scale":{"domain":[1,2,3,4,5,6,7,8,9,10,11,12],"range":["#1c1c9c","#2a2ad2","#2f60ea","#2f90f2","#30bff0","#40e0d8","#80eaa0","#c8ea60","#f2e03c","#f6a42e","#ee5a2a","#b81818"]},"legend":null},
      "detail":{"field":"c"},
      "order":{"value":null}}},
    {"data":{"name":"blp"},"mark":{"type":"circle","size":9,"color":"#7d7d7d","opacity":1},
     "encoding":{
      "x":{"field":"x","type":"quantitative","scale":{"nice":false},"axis":{"orient":"top","values":[1,10,100,1000],"labels":false,"domain":false,"title":null}},
      "y":{"field":"y","type":"quantitative","scale":{"nice":false},"axis":{"orient":"right","values":[1,10,100,1000],"labels":false,"domain":false,"title":null}}}}
   ],
   "resolve":{"axis":{"x":"independent","y":"independent"}}},
  {"width":301,"height":227,
   "layer":[
    {"data":{"name":"brc"},"mark":{"type":"line","strokeWidth":1.6,"clip":true},
     "encoding":{
      "x":{"field":"x","type":"quantitative","scale":{"type":"log","domain":[1,1550],"nice":false},"axis":{"values":[1,10,100,1000],"format":"d","title":"Interferon induction"}},
      "y":{"field":"y","type":"quantitative","scale":{"type":"log","domain":[1,1575],"nice":false},"axis":{"values":[1,10,100,1000],"format":"d","title":null}},
      "color":{"field":"l","type":"ordinal","scale":{"domain":[1,2,3,4,5,6,7,8,9,10,11,12],"range":["#1c1c9c","#2a2ad2","#2f60ea","#2f90f2","#30bff0","#40e0d8","#80eaa0","#c8ea60","#f2e03c","#f6a42e","#ee5a2a","#b81818"]},"legend":null},
      "detail":{"field":"c"},
      "order":{"value":null}}},
    {"data":{"name":"brp"},"mark":{"type":"circle","size":9,"color":"#7d7d7d","opacity":1},
     "encoding":{
      "x":{"field":"x","type":"quantitative","scale":{"nice":false},"axis":{"orient":"top","values":[1,10,100,1000],"labels":false,"domain":false,"title":null}},
      "y":{"field":"y","type":"quantitative","scale":{"nice":false},"axis":{"orient":"right","values":[1,10,100,1000],"labels":false,"domain":false,"title":null}}}}
   ],
   "resolve":{"axis":{"x":"independent","y":"independent"}}}
 ]}
],
"spacing":58
}
